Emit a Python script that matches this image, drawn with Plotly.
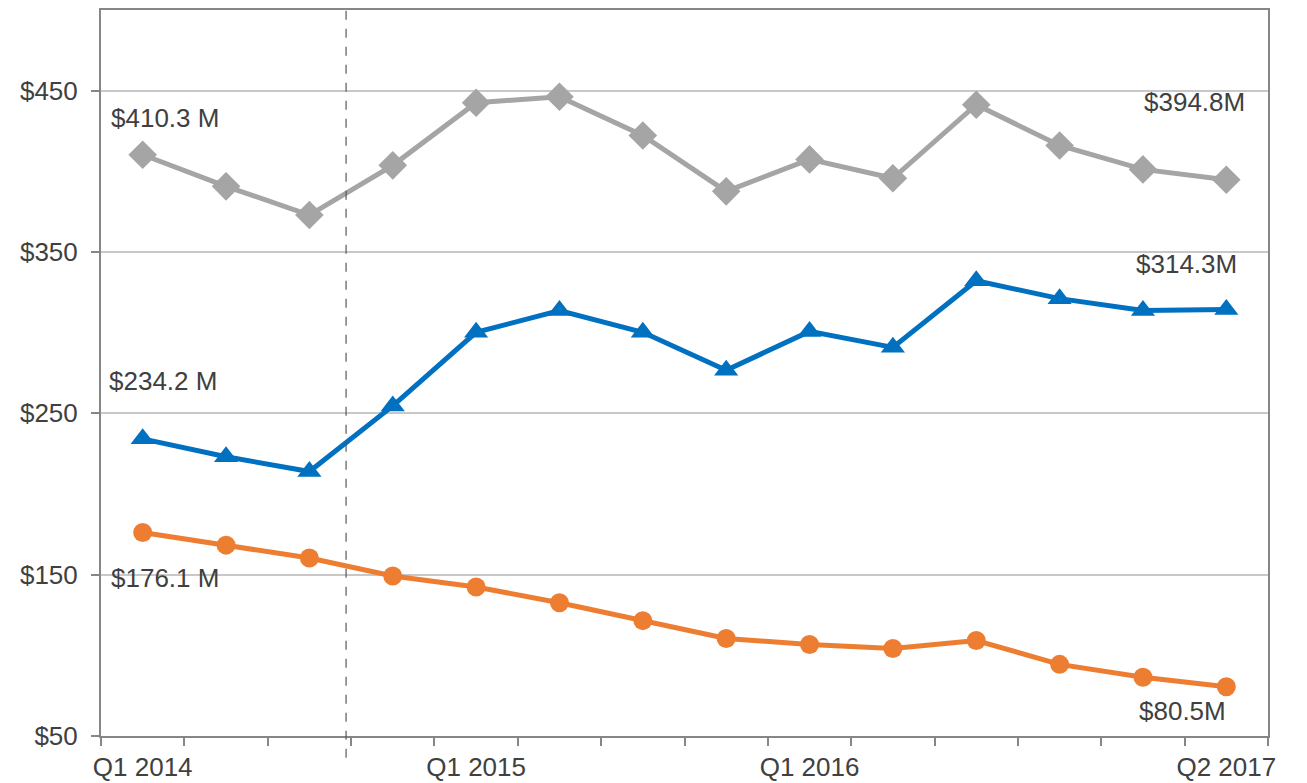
import plotly.graph_objects as go

quarters = ["Q1 2014", "Q2 2014", "Q3 2014", "Q4 2014",
            "Q1 2015", "Q2 2015", "Q3 2015", "Q4 2015",
            "Q1 2016", "Q2 2016", "Q3 2016", "Q4 2016",
            "Q1 2017", "Q2 2017"]
gray_vals = [410.3, 390.7, 372.9, 403.7, 442.5, 446.2, 422.2, 387.6,
             407.4, 395.7, 441.3, 416.0, 401.2, 394.8]
blue_vals = [234.2, 223.1, 213.9, 254.6, 300.2, 313.7, 300.2, 276.7,
             300.8, 290.9, 332.2, 321.1, 313.7, 314.3]
orange_vals = [176.1, 168.3, 160.3, 149.2, 142.4, 132.6, 121.5, 110.4,
               106.7, 104.2, 109.2, 94.4, 86.4, 80.5]
shown_labels = ["Q1 2014", "Q1 2015", "Q1 2016", "Q2 2017"]
y_ticks = [50, 150, 250, 350, 450]

idx = list(range(len(quarters)))
FONT = "Liberation Sans, Arial, sans-serif"
TXT = "#404040"
FS = 26

fig = go.Figure()
fig.add_trace(go.Scatter(x=idx, y=gray_vals, mode="lines+markers",
                         line=dict(color="#A5A5A5", width=5),
                         marker=dict(symbol="diamond", size=22, color="#A5A5A5"),
                         showlegend=False))
fig.add_trace(go.Scatter(x=idx, y=blue_vals, mode="lines+markers",
                         line=dict(color="#0070C0", width=5),
                         marker=dict(symbol="triangle-up", size=21, color="#0070C0"),
                         showlegend=False))
fig.add_trace(go.Scatter(x=idx, y=orange_vals, mode="lines+markers",
                         line=dict(color="#ED7D31", width=5),
                         marker=dict(symbol="circle", size=19, color="#ED7D31"),
                         showlegend=False))
# invisible trace on second x axis for tick labels
fig.add_trace(go.Scatter(x=idx, y=orange_vals, xaxis="x2", mode="none",
                         showlegend=False, hoverinfo="skip"))

n = len(quarters)
boundaries = [i - 0.5 for i in range(n + 1)]
label_pos = [quarters.index(q) for q in shown_labels]

fig.update_layout(
    width=1307, height=783,
    margin=dict(l=93, r=47, t=0, b=55),
    plot_bgcolor="white", paper_bgcolor="white",
    font=dict(family=FONT, size=FS, color=TXT),
    xaxis=dict(range=[-0.5, n - 0.5], tickvals=boundaries,
               ticktext=[""] * len(boundaries), ticks="outside", ticklen=8,
               tickcolor="#868686", tickwidth=2, showgrid=False,
               showline=True, linecolor="#868686", linewidth=2, mirror=True,
               zeroline=False),
    xaxis2=dict(range=[-0.5, n - 0.5], overlaying="x", side="bottom",
                anchor="y", tickvals=label_pos, ticktext=shown_labels,
                ticks="", showgrid=False, showline=False, zeroline=False,
                ticklabelstandoff=13,
                tickfont=dict(family=FONT, size=FS, color=TXT)),
    yaxis=dict(range=[50, 500], tickvals=y_ticks,
               ticktext=[f"${v}" for v in y_ticks], ticks="outside",
               ticklen=8, tickcolor="#868686", tickwidth=2,
               showgrid=True, gridcolor="#C8C8C8", gridwidth=1.5,
               showline=True, linecolor="#868686", linewidth=2, mirror=True,
               zeroline=False, ticklabelstandoff=8,
               tickfont=dict(family=FONT, size=FS, color=TXT)),
)

fig.add_shape(type="line", xref="x", yref="paper", x0=2.44, x1=2.44,
              y0=-0.03, y1=1.01, line=dict(color="#595959", width=1.2, dash="dash"))

ann = [
    (0, gray_vals[0], f"${gray_vals[0]} M", "left", -34, -37),
    (0, blue_vals[0], f"${blue_vals[0]} M", "left", -36, -58),
    (0, orange_vals[0], f"${orange_vals[0]} M", "left", -34, 45),
    (n - 1, gray_vals[-1], f"${gray_vals[-1]}M", "right", 21, -78),
    (n - 1, blue_vals[-1], f"${blue_vals[-1]}M", "right", 13, -46),
    (n - 1, orange_vals[-1], f"${orange_vals[-1]}M", "right", 2, 24),
]
for x, y, t, anc, ax, ay in ann:
    fig.add_annotation(x=x, y=y, text=t, showarrow=False, xanchor=anc,
                       yanchor="middle", xshift=ax, yshift=-ay,
                       font=dict(family=FONT, size=FS, color=TXT))

fig.write_html("out.html")
